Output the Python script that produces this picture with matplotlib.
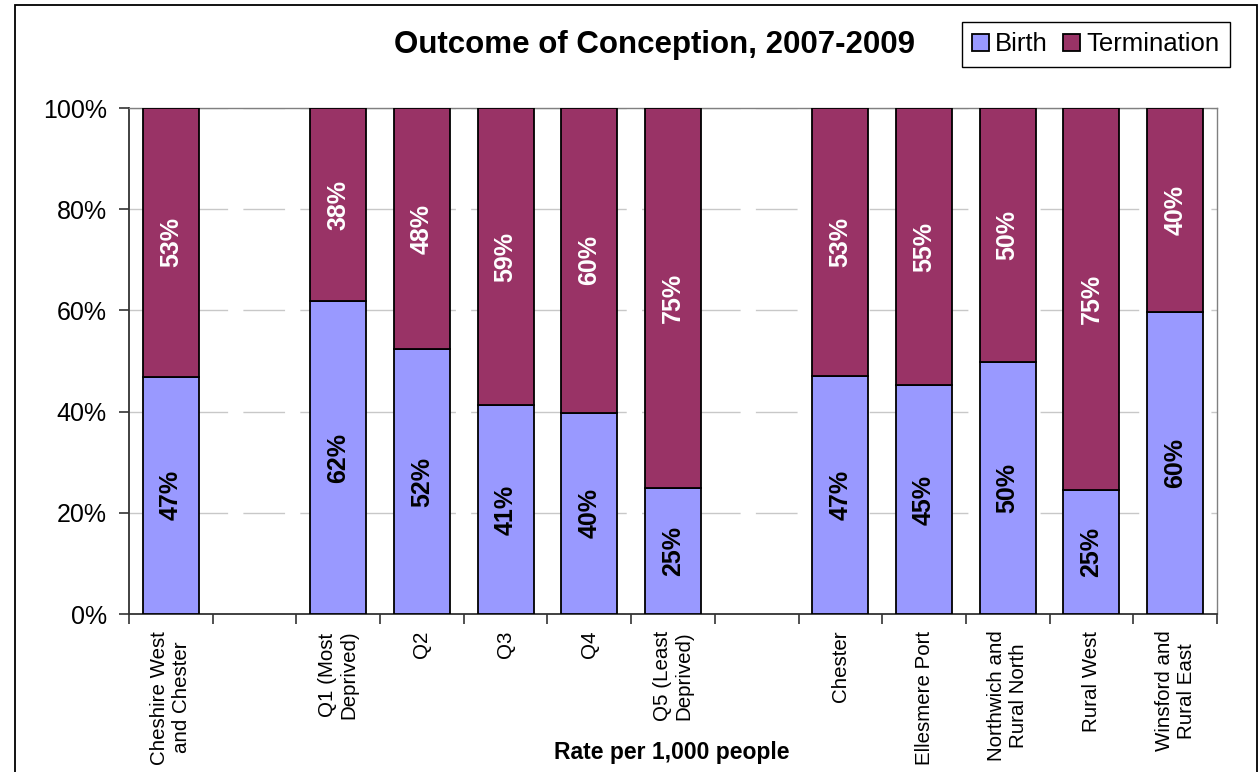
import matplotlib
matplotlib.use("Agg")
import matplotlib.pyplot as plt
from matplotlib.patches import Rectangle
import numpy as np

plt.rcParams['font.family'] = ['Liberation Sans', 'DejaVu Sans']

# chart data (blank slots separate the three groups)
categories = ["Cheshire West\nand Chester", "",
              "Q1 (Most\nDeprived)", "Q2", "Q3", "Q4", "Q5 (Least\nDeprived)", "",
              "Chester", "Ellesmere Port", "Northwich and\nRural North",
              "Rural West", "Winsford and\nRural East"]
birth = [46.9, np.nan, 61.8, 52.3, 41.3, 39.8, 25.0, np.nan,
         47.0, 45.2, 49.8, 24.6, 59.6]
termination = [53.1, np.nan, 38.2, 47.7, 58.7, 60.2, 75.0, np.nan,
               53.0, 54.8, 50.2, 75.4, 40.4]
birth_labels = ["47%", "", "62%", "52%", "41%", "40%", "25%", "",
                "47%", "45%", "50%", "25%", "60%"]
term_labels = ["53%", "", "38%", "48%", "59%", "60%", "75%", "",
               "53%", "55%", "50%", "75%", "40%"]

birth_col = "#9999FF"
term_col = "#993366"

fig = plt.figure(figsize=(12.59, 7.72), dpi=100)
ax = fig.add_axes([129/1259, 1-614/772, (1217-129)/1259, (614-108)/772])

x = np.arange(len(categories))
w = 0.67
b1 = ax.bar(x, birth, w, color=birth_col, edgecolor="black", linewidth=1.3,
            label="Birth", zorder=3)
b2 = ax.bar(x, termination, w, bottom=birth, color=term_col, edgecolor="black",
            linewidth=1.3, label="Termination", zorder=3)

# value labels inside segments
for i in x:
    if np.isnan(birth[i]):
        continue
    ax.text(i, birth[i]/2, birth_labels[i], rotation=90, ha="center", va="center",
            fontsize=18, fontweight="bold", color="black", zorder=4)
    ax.text(i, birth[i] + termination[i]/2, term_labels[i], rotation=90,
            ha="center", va="center", fontsize=18, fontweight="bold",
            color="white", zorder=4)

ax.set_xlim(-0.5, len(categories) - 0.5)
ax.set_ylim(0, 100)
ax.set_yticks([0, 20, 40, 60, 80, 100])
ax.set_yticklabels(["0%", "20%", "40%", "60%", "80%", "100%"], fontsize=18)
ax.yaxis.grid(True, color="#c8c8c8", linewidth=1, linestyle=(0, (30, 11)), zorder=0)

ax.set_xticks(x)
ax.set_xticklabels(categories, rotation=90, fontsize=14.8, ha="center",
                   va="top", multialignment="center")
ax.set_xticks(np.arange(len(categories) + 1) - 0.5, minor=True)
ax.tick_params(axis="x", which="major", length=0, pad=12)
ax.tick_params(axis="x", which="minor", length=7, width=1.2, color="#333333")
ax.tick_params(axis="y", length=7, width=1.2, color="#333333", pad=9)

for s in ["left", "bottom"]:
    ax.spines[s].set_color("#333333")
    ax.spines[s].set_linewidth(1.3)
for s in ["top", "right"]:
    ax.spines[s].set_color("#808080")
    ax.spines[s].set_linewidth(1)

fig.text(654/1259, 1-45/772, "Outcome of Conception, 2007-2009", ha="center",
         va="center", fontsize=22.5, fontweight="bold")
fig.text(672/1259, 1-753/772, "Rate per 1,000 people", ha="center", va="center",
         fontsize=16.5, fontweight="bold")

leg = fig.legend(handles=[b1, b2], loc="upper right", ncol=2,
                 bbox_to_anchor=(1230/1259, 1-22/772), fontsize=18.5,
                 frameon=True, fancybox=False, edgecolor="black", framealpha=1,
                 handlelength=0.65, handleheight=0.65, handletextpad=0.25,
                 columnspacing=0.6, borderpad=0.4, borderaxespad=0)
leg.get_frame().set_linewidth(1)

# outer chart border
fig.patches.append(Rectangle((15/1259, -0.02), (1257-15)/1259, 1.02-5/772,
                             transform=fig.transFigure, fill=False,
                             edgecolor="black", linewidth=1.3))

fig.savefig("out.png", dpi=100)
